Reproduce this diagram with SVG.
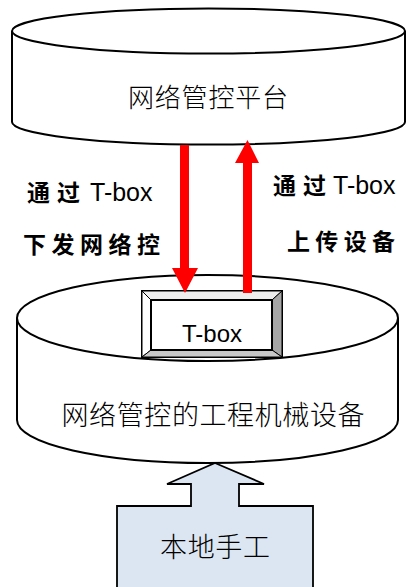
<svg xmlns="http://www.w3.org/2000/svg" width="406" height="587" viewBox="0 0 406 587">
<defs>
<style>
.ln{fill:#fff;stroke:#000;stroke-width:2}
.cjk{font-family:"Noto Sans CJK SC","Noto Sans",sans-serif;font-weight:300;fill:#000}
.lbl{font-family:"Noto Sans CJK SC",sans-serif;font-weight:bold;font-size:23px;fill:#000}
.lat{font-family:"Liberation Sans",Arial,sans-serif;font-weight:normal;font-size:25px;fill:#000}
.red{fill:#ff0000}
</style>
</defs>
<rect width="406" height="587" fill="#fff"/>
<g id="platform">
<path class="ln" d="M12,31 L12,122 A196.5,22.5 0 0 0 405,122 L405,31"/>
<ellipse class="ln" cx="208.5" cy="31" rx="196.5" ry="22.5"/>
<text class="cjk" x="208" y="107" font-size="26" text-anchor="middle" textLength="160">网络管控平台</text>
</g>
<g id="equipment">
<path class="ln" d="M17,318 L17,420 A190.5,43 0 0 0 398,420 L398,318"/>
<ellipse class="ln" cx="207.5" cy="318" rx="190.5" ry="43"/>
<text class="cjk" x="213" y="425" font-size="27" text-anchor="middle" textLength="303">网络管控的工程机械设备</text>
</g>
<g id="tbox">
<rect x="142" y="291" width="140" height="66" fill="#fff" stroke="#000" stroke-width="2"/>
<polygon points="142,291 282,291 272,300 151,300" fill="#eeeeee" stroke="#000" stroke-width="1"/>
<polygon points="142,291 151,300 151,350 142,357" fill="#ffffff" stroke="#000" stroke-width="1"/>
<polygon points="282,291 282,357 272,350 272,300" fill="#a6a6a6" stroke="#000" stroke-width="1"/>
<polygon points="142,357 151,350 272,350 282,357" fill="#c8c8c8" stroke="#000" stroke-width="1"/>
<rect x="151" y="300" width="121" height="50" fill="#fff" stroke="#000" stroke-width="2"/>
<text x="212" y="342" font-family="Liberation Sans, Arial, sans-serif" font-size="24" text-anchor="middle" fill="#000">T-box</text>
</g>
<g id="manual">
<path d="M215,463 L264,484 L239,484 L239,506 L313,506 L313,590 L117,590 L117,506 L191,506 L191,484 L167,484 Z" fill="#dce6f2" stroke="#000" stroke-width="1.8" stroke-linejoin="miter"/>
<text class="cjk" x="215" y="557" font-size="27" text-anchor="middle" textLength="110">本地手工</text>
</g>
<g id="connectors">
<path class="red" d="M180,145 L189,145 L189,268 L198,268 L185,293 L172,268 L180,268 Z"/>
<path class="red" d="M243,293 L252,293 L252,163 L259,163 L247.5,140 L235,163 L243,163 Z"/>
</g>
<g id="labels">
<text class="lbl" x="27" y="201" font-size="22"><tspan textLength="53">通过</tspan><tspan class="lat" x="90">T-box</tspan></text>
<text class="lbl" x="23" y="253" textLength="137">下发网络控</text>
<text class="lbl" x="273" y="194" font-size="22"><tspan textLength="53">通过</tspan><tspan class="lat" x="333">T-box</tspan></text>
<text class="lbl" x="287" y="250" textLength="108">上传设备</text>
</g>
</svg>
